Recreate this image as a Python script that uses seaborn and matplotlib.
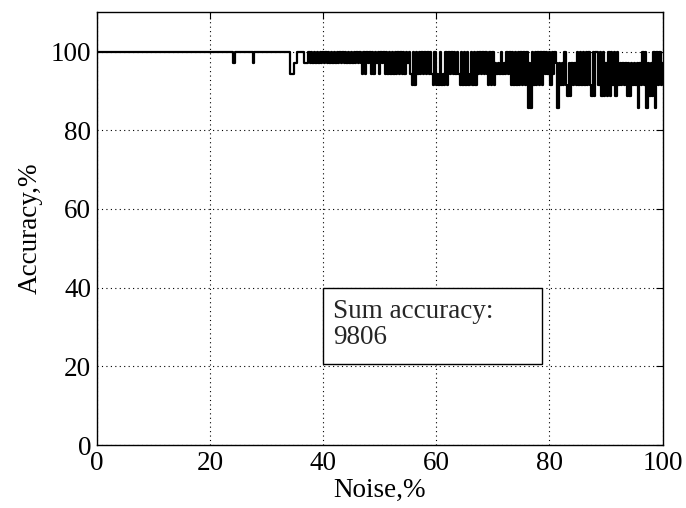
import matplotlib
matplotlib.use("Agg")
import matplotlib.pyplot as plt
from matplotlib.patches import Rectangle
import numpy as np
import pandas as pd
import seaborn as sns

# accuracy levels (one test sample = 1/35 of the set), coded 0..5 below
acc_levels = [100.0, 97.1, 94.3, 91.4, 88.6, 85.7]

# noise is sampled every 0.25 %, one code per sample, 40 samples per row
noise_step = 0.25
acc_codes = (
    "0000000000000000000000000000000000000000"   # 0 .. 9.75
    "0000000000000000000000000000000000000000"   # 10 .. 19.75
    "0000000000000000010000000000000100000000"   # 20 .. 29.75
    "0000000000000000022211000001110101010101"   # 30 .. 39.75
    "0101010101010101010101010101202010202010"   # 40 .. 49.75
    "2010202020202020202010230302020202020230"   # 50 .. 59.75
    "3230323030202020230303032030302020202303"   # 60 .. 69.75
    "0312120212020303030303030515030303030202"   # 70 .. 79.75
    "0302015131303414131303030303034040030404"   # 80 .. 89.75
    "1404030403131314141313151303051414050303"   # 90 .. 99.75
    "1"                                          # 100
)

noise = np.arange(0, 100 + noise_step / 2, noise_step)
accuracy = [acc_levels[int(c)] for c in acc_codes]

sum_accuracy = 9806
x_ticks = [0, 20, 40, 60, 80, 100]
y_ticks = [0, 20, 40, 60, 80, 100]

df = pd.DataFrame({"noise": noise, "accuracy": accuracy})

sns.set_theme(style="white")
plt.rcParams["font.family"] = ["Liberation Serif", "DejaVu Serif"]

fig = plt.figure(figsize=(6.86, 5.08), dpi=100)
ax = fig.add_axes([0.141, 0.124, 0.825, 0.852])

sns.lineplot(data=df, x="noise", y="accuracy", color="black",
             linewidth=1.6, estimator=None, drawstyle="steps-mid",
             ax=ax, zorder=2)

ax.set_xlim(0, 100)
ax.set_ylim(0, 110)
ax.set_xticks(x_ticks)
ax.set_yticks(y_ticks)
ax.set_axisbelow(True)
ax.grid(True, linestyle=(0, (1, 3)), color="black", linewidth=0.8)
ax.tick_params(direction="in", length=5, width=0.8, top=True, right=True,
               labelsize=19.5, colors="black", pad=4)
for sp in ax.spines.values():
    sp.set_color("black")
    sp.set_linewidth(1.0)

ax.set_xlabel("Noise,%", fontsize=19.5, color="black", labelpad=2)
ax.set_ylabel("Accuracy,%", fontsize=19.5, color="black", labelpad=6)

# text box with the summed accuracy
ax.add_patch(Rectangle((40, 20.5), 38.7, 19.5, facecolor="white",
                       edgecolor="black", linewidth=1.0, zorder=3))
ax.text(41.7, 37.0, f"Sum accuracy:\n{sum_accuracy}", fontsize=19.5,
        va="top", ha="left", linespacing=1.05, zorder=4)

fig.savefig("out.png", dpi=100)
